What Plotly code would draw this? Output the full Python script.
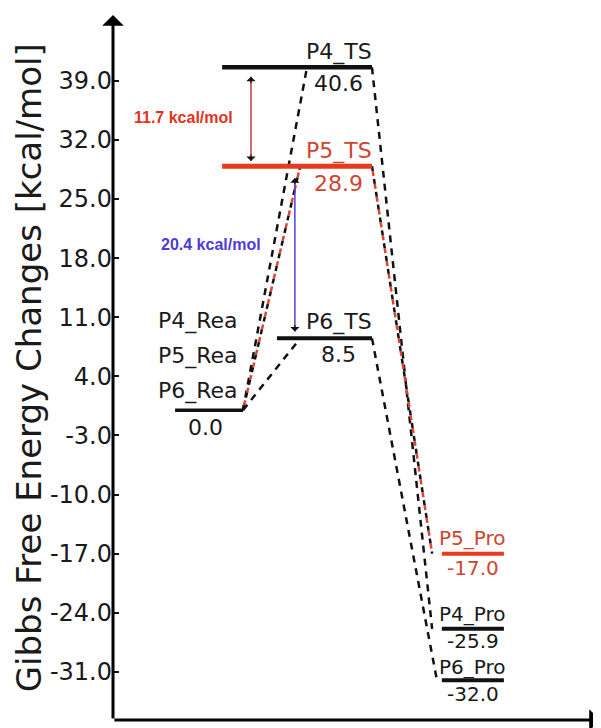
import plotly.graph_objects as go

# ---------------- data ----------------
species = ["P4", "P5", "P6"]
rea_names = ["P4_Rea", "P5_Rea", "P6_Rea"]
ts_names = ["P4_TS", "P5_TS", "P6_TS"]
pro_names = ["P4_Pro", "P5_Pro", "P6_Pro"]
rea_energy = [0.0, 0.0, 0.0]
ts_energy = [40.6, 28.9, 8.5]
pro_energy = [-25.9, -17.0, -32.0]
ytick_vals = [-31.0, -24.0, -17.0, -10.0, -3.0, 4.0, 11.0, 18.0, 25.0, 32.0, 39.0]
ytick_text = ["-31.0", "-24.0", "-17.0", "-10.0", "-3.0", "4.0", "11.0", "18.0", "25.0", "32.0", "39.0"]
y_title = "Gibbs Free Energy Changes [kcal/mol]"

# ---------------- layout / style ----------------
X_RANGE = [0, 10]
Y_RANGE = [-36.7, 46.8]
REA_SPAN = (1.28, 2.68)
TS_START = [2.25, 2.25, 3.38]
TS_END = 5.34
TS_JOIN = [4.0, 3.86, 3.86]
PRO_SPAN = (6.78, 8.06)
PRO_JOIN = [6.58, 6.58, 6.68]
LEVEL_COLORS = ["#111111", "#e63b1e", "#111111"]
TEXT_COLORS = ["#1a1a1a", "#cf4530", "#1a1a1a"]
LEVEL_WIDTH = [4.5, 5, 4]
FONT = "DejaVu Sans"
LBL = 22
PRO_LBL = 20
# label offsets (name above, value below) for TS and product levels
TS_NAME_UP = [1.8, 1.8, 1.9]
TS_VAL_DN = [-1.9, -2.1, -1.9]
PRO_NAME_UP = [1.7, 1.8, 1.55]
PRO_VAL_DN = [-1.5, -1.7, -1.6]

fig = go.Figure()

# dashed connectors
for i in range(3):
    segs = [([REA_SPAN[1], TS_JOIN[i]], [rea_energy[i], ts_energy[i]]),
            ([TS_END, PRO_JOIN[i]], [ts_energy[i], pro_energy[i]])]
    for xs, ys in segs:
        if species[i] == "P5":
            fig.add_trace(go.Scatter(x=xs, y=ys, mode="lines", hoverinfo="skip",
                                     line=dict(color="#111111", width=2.5, dash="5px,8px")))
            fig.add_trace(go.Scatter(x=xs, y=ys, mode="lines", hoverinfo="skip",
                                     line=dict(color="#e0442c", width=2.5, dash="0px,5px,5px,3px")))
        else:
            fig.add_trace(go.Scatter(x=xs, y=ys, mode="lines", hoverinfo="skip",
                                     line=dict(color="#111111", width=2.5, dash="7px,6px")))

# reactant level (shared)
fig.add_trace(go.Scatter(x=list(REA_SPAN), y=[rea_energy[0]] * 2, mode="lines", hoverinfo="skip",
                         line=dict(color="#111111", width=3.5)))
# TS and product levels
for i in range(3):
    fig.add_trace(go.Scatter(x=[TS_START[i], TS_END], y=[ts_energy[i]] * 2, mode="lines",
                             hoverinfo="skip", line=dict(color=LEVEL_COLORS[i], width=LEVEL_WIDTH[i])))
    fig.add_trace(go.Scatter(x=list(PRO_SPAN), y=[pro_energy[i]] * 2, mode="lines",
                             hoverinfo="skip", line=dict(color=LEVEL_COLORS[i], width=4)))

ann = []
TS_CX = 4.65
PRO_CX = 7.42
for i in range(3):
    ann.append(dict(x=TS_CX, y=ts_energy[i] + TS_NAME_UP[i], text=ts_names[i], showarrow=False,
                    font=dict(family=FONT, size=LBL, color=TEXT_COLORS[i])))
    ann.append(dict(x=TS_CX, y=ts_energy[i] + TS_VAL_DN[i], text=f"{ts_energy[i]:.1f}", showarrow=False,
                    font=dict(family=FONT, size=LBL, color=TEXT_COLORS[i])))
    ann.append(dict(x=PRO_CX, y=pro_energy[i] + PRO_NAME_UP[i], text=pro_names[i], showarrow=False,
                    font=dict(family=FONT, size=PRO_LBL, color=TEXT_COLORS[i])))
    ann.append(dict(x=PRO_CX, y=pro_energy[i] + PRO_VAL_DN[i], text=f"{pro_energy[i]:.1f}", showarrow=False,
                    font=dict(family=FONT, size=PRO_LBL, color=TEXT_COLORS[i])))
    k = 2 - i
    ann.append(dict(x=1.75, y=rea_energy[i] + 2.3 + 4.15 * k, text=rea_names[i], showarrow=False,
                    font=dict(family=FONT, size=LBL, color="#1a1a1a")))
ann.append(dict(x=1.9, y=rea_energy[2] - 2.0, text=f"{rea_energy[2]:.1f}", showarrow=False,
                font=dict(family=FONT, size=LBL, color="#1a1a1a")))

# barrier arrows
barriers = [
    (2.845, ts_energy[0] - 1.1, ts_energy[1] + 0.6, ts_energy[0] - ts_energy[1], "#c23a45", "#e2321e", 1.46, 34.7),
    (3.75, ts_energy[1] - 1.4, ts_energy[2] + 0.8, ts_energy[1] - ts_energy[2], "#5b3ad0", "#4f3bd8", 2.02, 19.6),
]
for bx, ytop, ybot, val, lc, tc, tx, ty in barriers:
    fig.add_trace(go.Scatter(x=[bx, bx], y=[ybot, ytop], mode="lines", hoverinfo="skip",
                             line=dict(color=lc, width=1.5)))
    ann.append(dict(x=bx, y=ytop, ax=0, ay=8, showarrow=True, arrowhead=1, arrowsize=1.3,
                    arrowwidth=1.2, arrowcolor="#111111", text=""))
    ann.append(dict(x=bx, y=ybot, ax=0, ay=-8, showarrow=True, arrowhead=1, arrowsize=1.3,
                    arrowwidth=1.2, arrowcolor="#111111", text=""))
    ann.append(dict(x=tx, y=ty, text=f"<b>{val:.1f} kcal/mol</b>", showarrow=False,
                    font=dict(family="Liberation Sans", size=16, color=tc)))

# axis arrows
ann.append(dict(xref="paper", yref="paper", x=0, y=1.0, ax=0, ay=705, axref="pixel", ayref="pixel",
                showarrow=True, arrowhead=1, arrowsize=1.2, arrowwidth=3, arrowcolor="#000000", text=""))
ann.append(dict(xref="paper", yref="paper", x=1.006, y=0, ax=-488, ay=0, axref="pixel", ayref="pixel",
                showarrow=True, arrowhead=1, arrowsize=1.2, arrowwidth=3, arrowcolor="#000000", text=""))
# y title
ann.append(dict(xref="paper", yref="paper", x=-0.173, y=0.499, text=y_title, textangle=-90,
                showarrow=False, xanchor="center", yanchor="middle",
                font=dict(family=FONT, size=34, color="#1a1a1a")))

fig.update_layout(
    width=593, height=720,
    margin=dict(l=105, r=3, t=7, b=8),
    paper_bgcolor="white", plot_bgcolor="white",
    showlegend=False,
    annotations=ann,
    xaxis=dict(range=X_RANGE, visible=False, fixedrange=True),
    yaxis=dict(range=Y_RANGE, tickvals=ytick_vals, ticktext=ytick_text, showgrid=False,
               zeroline=False, showline=False, ticks="inside", ticklen=6, tickwidth=2,
               tickcolor="#111111", tickfont=dict(family=FONT, size=24, color="#1a1a1a")),
)

fig.write_html("out.html")
